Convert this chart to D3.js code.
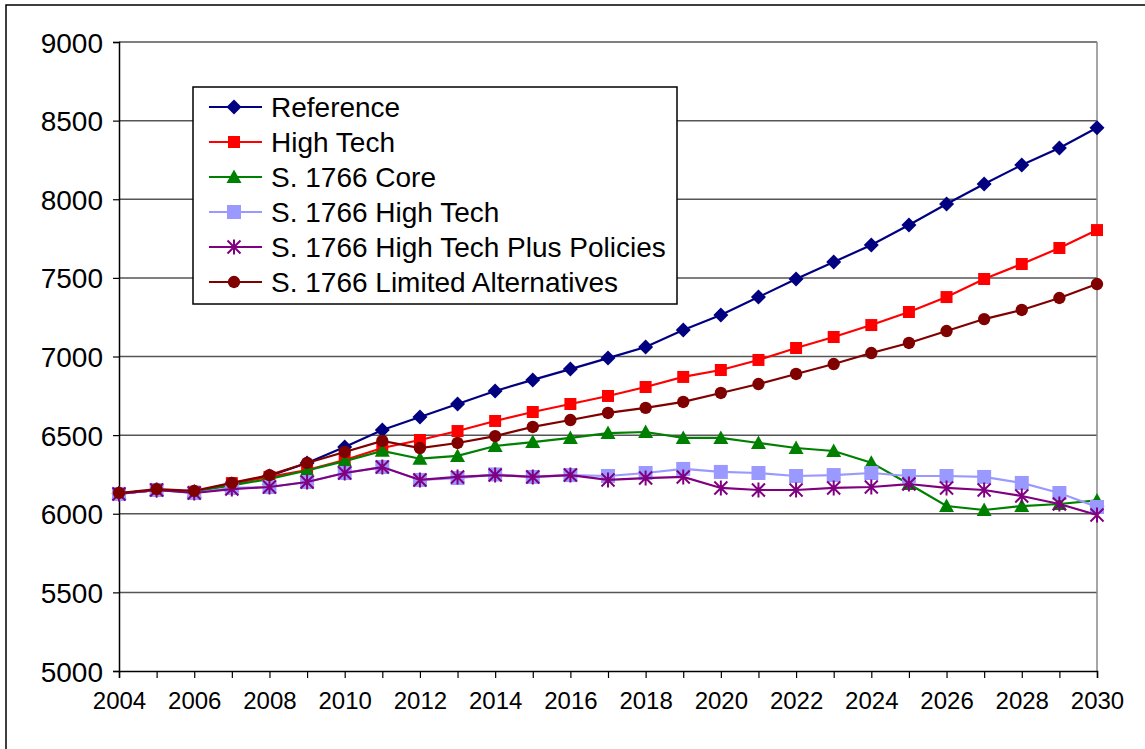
<!DOCTYPE html>
<meta charset='utf-8'>
<style>
    body { margin: 0; background: #fff; }
    text { font-family: 'Liberation Sans', Arial, Helvetica, sans-serif; fill: #000; }
</style>
<body>
<div id='container'></div>
<script src='https://cdnjs.cloudflare.com/ajax/libs/d3/7.8.5/d3.min.js'></script>
<script>
    // ---- data ----
    const years = d3.range( 2004, 2031 );
    const yTicks = [5000, 5500, 6000, 6500, 7000, 7500, 8000, 8500, 9000];

    const reference      = [6130,6150,6140,6189,6240,6323,6424,6533,6615,6698,6781,6851,6920,6990,7060,7168,7264,7378,7493,7601,7709,7836,7970,8097,8218,8326,8455];
    const highTech       = [6130,6150,6140,6195,6234,6278,6342,6418,6469,6526,6590,6647,6698,6749,6806,6870,6914,6978,7054,7124,7200,7283,7378,7493,7588,7690,7804];
    const core           = [6130,6150,6140,6180,6222,6275,6335,6400,6350,6368,6431,6456,6482,6513,6520,6482,6482,6450,6418,6399,6325,6189,6049,6024,6049,6062,6085];
    const coreHighTech   = [6126,6151,6132,6164,6170,6202,6259,6297,6215,6227,6250,6234,6246,6240,6259,6285,6266,6259,6240,6246,6259,6240,6240,6234,6196,6132,6043];
    const plusPolicies   = [6126,6151,6132,6157,6170,6202,6259,6297,6215,6234,6246,6234,6246,6215,6227,6234,6164,6151,6151,6164,6170,6189,6164,6151,6113,6062,5992];
    const limitedAlt     = [6132,6157,6145,6196,6246,6323,6393,6463,6418,6450,6494,6552,6596,6641,6673,6711,6768,6825,6889,6952,7022,7086,7162,7238,7296,7372,7461];

    const seriesNames  = ['Reference', 'High Tech', 'S. 1766 Core', 'S. 1766 High Tech', 'S. 1766 High Tech Plus Policies', 'S. 1766 Limited Alternatives'];
    const seriesValues = [reference, highTech, core, coreHighTech, plusPolicies, limitedAlt];
    const seriesColors = ['#000080', '#ff0000', '#008000', '#9999ff', '#800080', '#800000'];
    const seriesMarks  = ['diamond', 'square', 'triangle', 'bigsquare', 'asterisk', 'circle'];

    const W = 1145, H = 749;
    const plot = { left: 119, right: 1097, top: 42, bottom: 671 };

    const svg = d3.select( '#container' ).append( 'svg' )
        .attr( 'width', W ).attr( 'height', H );

    // outer chart frame (cut off at right/bottom)
    svg.append( 'rect' )
        .attr( 'x', 6 ).attr( 'y', 5 ).attr( 'width', W + 10 ).attr( 'height', H + 10 )
        .attr( 'fill', 'none' ).attr( 'stroke', '#000' ).attr( 'stroke-width', 1.5 );

    const x = d3.scaleLinear().domain( [2004, 2030] ).range( [plot.left, plot.right] );
    const y = d3.scaleLinear().domain( [5000, 9000] ).range( [plot.bottom, plot.top] );

    // gridlines
    svg.append( 'g' ).selectAll( 'line' )
        .data( yTicks.filter( v => v > 5000 ) )
        .join( 'line' )
            .attr( 'x1', plot.left ).attr( 'x2', plot.right )
            .attr( 'y1', d => y( d ) ).attr( 'y2', d => y( d ) )
            .attr( 'stroke', '#555' ).attr( 'stroke-width', 1.5 );

    // right border of plot area
    svg.append( 'line' )
        .attr( 'x1', plot.right ).attr( 'x2', plot.right )
        .attr( 'y1', plot.top ).attr( 'y2', plot.bottom )
        .attr( 'stroke', '#888' ).attr( 'stroke-width', 1.5 );

    // axes
    const yAxis = d3.axisLeft( y ).tickValues( yTicks ).tickSize( 6 ).tickPadding( 10 ).tickFormat( d3.format( 'd' ) );
    const yAxisEl = svg.append( 'g' ).attr( 'transform', `translate( ${plot.left}, 0 )` ).call( yAxis );
    yAxisEl.selectAll( 'text' ).style( 'font-size', '28px' ).attr( 'dy', '0.36em' );

    const xAxis = d3.axisBottom( x ).tickValues( years ).tickSize( 7 ).tickPadding( 14 )
        .tickFormat( d => d % 2 === 0 ? d : '' );
    const xAxisEl = svg.append( 'g' ).attr( 'transform', `translate( 0, ${plot.bottom} )` ).call( xAxis );
    xAxisEl.selectAll( 'text' ).style( 'font-size', '24px' );

    svg.selectAll( '.domain' ).attr( 'stroke', '#000' ).attr( 'stroke-width', 1.5 );
    svg.selectAll( '.tick line' ).attr( 'stroke', '#000' ).attr( 'stroke-width', 1.2 );

    // marker shapes
    const markerPath = ( type ) => {
        switch ( type ) {
            case 'diamond':   return 'M0,-7.5L7.5,0L0,7.5L-7.5,0Z';
            case 'square':    return 'M-6,-6H6V6H-6Z';
            case 'bigsquare': return 'M-7,-7H7V7H-7Z';
            case 'triangle':  return 'M0,-7.5L7.5,6H-7.5Z';
            case 'circle':    return d3.symbol( d3.symbolCircle, 120 )();
            case 'asterisk':  return 'M-6.5,-6.5L6.5,6.5M6.5,-6.5L-6.5,6.5M0,-7.5V7.5';
        }
    };

    const line = d3.line().x( ( d, i ) => x( years[i] ) ).y( d => y( d ) );

    const series = svg.append( 'g' ).selectAll( 'g' )
        .data( seriesValues )
        .join( 'g' );

    series.append( 'path' )
        .attr( 'd', d => line( d ) )
        .attr( 'fill', 'none' )
        .attr( 'stroke', ( d, i ) => seriesColors[i] )
        .attr( 'stroke-width', 2.2 );

    series.each( function( vals, si ) {
        const stroked = seriesMarks[si] === 'asterisk';
        d3.select( this ).selectAll( '.mark' )
            .data( vals )
            .join( 'path' )
                .attr( 'class', 'mark' )
                .attr( 'transform', ( d, i ) => `translate( ${x( years[i] )}, ${y( d )} )` )
                .attr( 'd', markerPath( seriesMarks[si] ) )
                .attr( 'fill', stroked ? 'none' : seriesColors[si] )
                .attr( 'stroke', stroked ? seriesColors[si] : 'none' )
                .attr( 'stroke-width', 2 );
    } );

    // legend
    const legend = svg.append( 'g' ).attr( 'transform', 'translate( 193, 87 )' );
    legend.append( 'rect' )
        .attr( 'width', 484 ).attr( 'height', 217 )
        .attr( 'fill', '#fff' ).attr( 'stroke', '#000' ).attr( 'stroke-width', 1.5 );

    const rows = legend.selectAll( '.row' )
        .data( seriesNames )
        .join( 'g' )
            .attr( 'class', 'row' )
            .attr( 'transform', ( d, i ) => `translate( 0, ${20 + i * 35} )` );

    rows.append( 'line' )
        .attr( 'x1', 16 ).attr( 'x2', 69 )
        .attr( 'stroke', ( d, i ) => seriesColors[i] ).attr( 'stroke-width', 2.2 );

    rows.append( 'path' )
        .attr( 'transform', 'translate( 41, 0 )' )
        .attr( 'd', ( d, i ) => markerPath( seriesMarks[i] ) )
        .attr( 'fill', ( d, i ) => seriesMarks[i] === 'asterisk' ? 'none' : seriesColors[i] )
        .attr( 'stroke', ( d, i ) => seriesMarks[i] === 'asterisk' ? seriesColors[i] : 'none' )
        .attr( 'stroke-width', 2 );

    rows.append( 'text' )
        .attr( 'x', 78 ).attr( 'dy', '0.35em' )
        .style( 'font-size', '28px' )
        .text( d => d );
</script>
</body>
